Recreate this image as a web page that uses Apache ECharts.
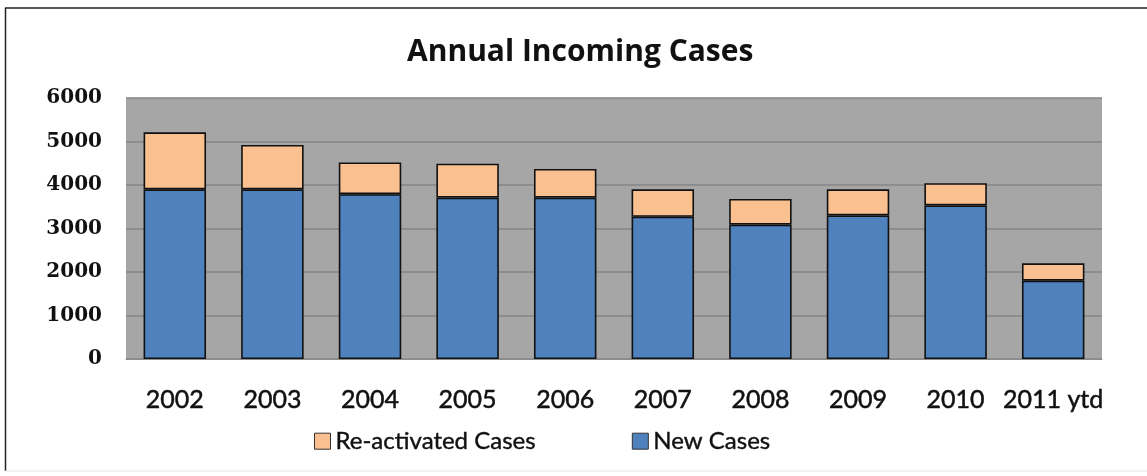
<!DOCTYPE html>
<html>
<head>
<meta charset="utf-8">
<title>Annual Incoming Cases</title>
<script src="https://cdn.jsdelivr.net/npm/echarts@6/dist/echarts.min.js"></script>
<style>
  html, body { margin: 0; padding: 0; background: #ffffff; }
  #chart { width: 1147px; height: 476px; }
</style>
</head>
<body>
<div id="chart"></div>
<script>
// Incoming cases per year, split into new and re-activated cases
const years = ['2002', '2003', '2004', '2005', '2006', '2007', '2008', '2009', '2010', '2011 ytd'];
const newCases = [3900, 3900, 3790, 3710, 3710, 3270, 3090, 3300, 3530, 1800];
const reactivatedCases = [1310, 1020, 730, 780, 660, 630, 590, 600, 510, 400];
const yTicks = [0, 1000, 2000, 3000, 4000, 5000, 6000];

const chart = echarts.init(document.getElementById('chart'), null, { renderer: 'canvas' });

const sansFont = 'Lato, "Open Sans", sans-serif';
const barBorder = { borderColor: '#111111', borderWidth: 1.6 };

chart.setOption({
  animation: false,
  backgroundColor: '#ffffff',
  title: {
    text: 'Annual Incoming Cases',
    left: 402,
    top: 32,
    textStyle: {
      fontFamily: '"Open Sans", Lato, sans-serif',
      fontWeight: 'bold',
      fontSize: 30,
      color: '#111111'
    }
  },
  legend: {
    data: ['Re-activated Cases', 'New Cases'],
    left: 309,
    top: 424,
    itemWidth: 16,
    itemHeight: 16,
    itemGap: 96,
    icon: 'rect',
    textStyle: {
      fontFamily: sansFont,
      fontSize: 24,
      color: '#111111',
      textBorderColor: '#111111',
      textBorderWidth: 0.4
    },
    itemStyle: { borderColor: '#333333', borderWidth: 1 }
  },
  grid: {
    left: 126,
    right: 45,
    top: 98,
    bottom: 117,
    show: true,
    backgroundColor: '#a6a6a6',
    borderWidth: 0
  },
  xAxis: {
    type: 'category',
    data: years,
    axisLine: { show: true, lineStyle: { color: '#8c8c8c', width: 1 } },
    axisTick: { show: false },
    axisLabel: {
      interval: 0,
      margin: 28,
      fontFamily: sansFont,
      fontSize: 25,
      color: '#111111',
      textBorderColor: '#111111',
      textBorderWidth: 0.5
    }
  },
  yAxis: {
    type: 'value',
    min: yTicks[0],
    max: yTicks[yTicks.length - 1],
    interval: 1000,
    axisLine: { show: false },
    axisTick: { show: false },
    splitLine: { show: true, lineStyle: { color: '#858585', width: 1.5 } },
    axisLabel: {
      margin: 24,
      formatter: function (v) { return String(v); },
      fontFamily: '"DejaVu Serif", "Liberation Serif", serif',
      fontWeight: 'bold',
      fontSize: 20,
      color: '#111111'
    }
  },
  series: [
    {
      name: 'New Cases',
      type: 'bar',
      stack: 'cases',
      data: newCases,
      barWidth: '64%',
      itemStyle: Object.assign({ color: '#4f81bd' }, barBorder)
    },
    {
      name: 'Re-activated Cases',
      type: 'bar',
      stack: 'cases',
      data: reactivatedCases,
      barWidth: '64%',
      itemStyle: Object.assign({ color: '#fac090' }, barBorder)
    }
  ],
  graphic: [
    // chart frame
    { type: 'line', shape: { x1: 5, y1: 8, x2: 1147, y2: 8 }, style: { stroke: '#222222', lineWidth: 1.5 }, silent: true },
    { type: 'line', shape: { x1: 5.5, y1: 8, x2: 5.5, y2: 471 }, style: { stroke: '#222222', lineWidth: 1.5 }, silent: true },
    { type: 'line', shape: { x1: 5, y1: 471, x2: 1147, y2: 471 }, style: { stroke: '#e4e4e4', lineWidth: 1 }, silent: true }
  ]
});
</script>
</body>
</html>
